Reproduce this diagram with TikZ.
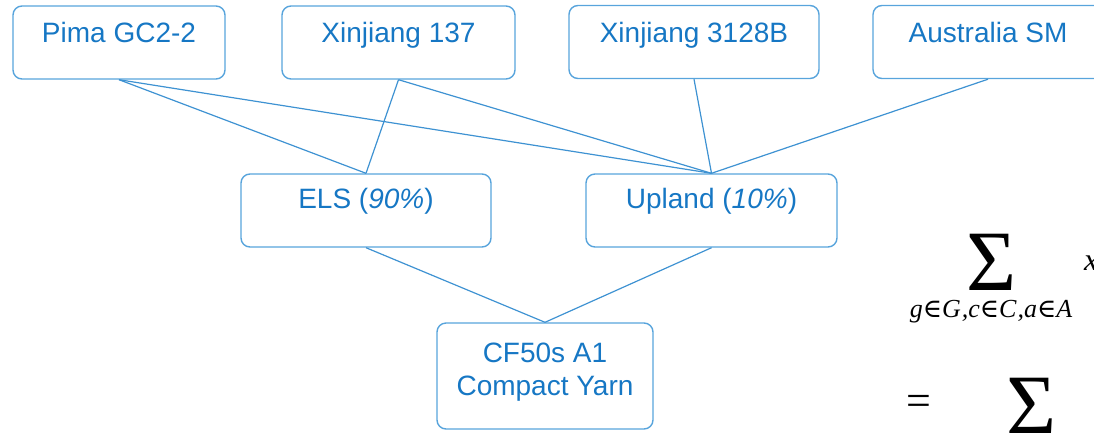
\documentclass[tikz,border=0pt]{standalone}
\usepackage{fontspec}
\setmainfont{Liberation Sans}
\newfontfamily\serifmath{Liberation Serif}
\newfontfamily\relsym{DejaVu Serif}
\newcommand\elemof{{\relsym\upshape ∈}}
\definecolor{ink}{RGB}{22,119,196}
\definecolor{boxline}{RGB}{88,164,220}
\definecolor{linkc}{RGB}{62,146,210}
\begin{document}
\begin{tikzpicture}[x=1pt,y=-1pt,
  box/.style={draw=boxline, line width=1.4pt, rounded corners=9pt,
    inner sep=0pt, minimum height=73pt},
  lbl/.style={text=ink, font=\fontsize{28}{33}\selectfont, inner sep=0pt, anchor=base},
  link/.style={draw=linkc, line width=1.2pt},
  bigsum/.style={inner sep=0pt, anchor=base, font=\fontsize{86}{86}\selectfont\serifmath}]
\useasboundingbox (0,0) rectangle (1094,432);
\clip (0,0) rectangle (1094,432);

% cotton varieties
\node[box, minimum width=212pt] (pima)  at (119,42.5)   {};
\node[box, minimum width=233pt] (x137)  at (398.5,42.5) {};
\node[box, minimum width=250pt] (x3128) at (694,42)     {};
\node[box, minimum width=230pt] (aus)   at (988,42)     {};
\node[lbl] (pimaT)  at (119,42)   {Pima GC2-2};
\node[lbl] (x137T)  at (398.5,42) {Xinjiang 137};
\node[lbl] (x3128T) at (694,42)   {Xinjiang 3128B};
\node[lbl] (ausT)   at (988,42)   {Australia SM};

% fibre classes
\node[box, minimum width=250pt] (els) at (366,210.5)   {};
\node[box, minimum width=251pt] (upl) at (711.5,210.5) {};
\node[lbl] (elsT) at (366,208)   {ELS (\textit{90\%})};
\node[lbl] (uplT) at (711.5,208) {Upland (\textit{10\%})};

% yarn
\node[box, minimum width=216pt, minimum height=106pt] (yarn) at (545,376) {};
\node[lbl, align=center] (yarnT) at (545,395) {CF50s A1\\Compact Yarn};

% blending links
\draw[link] (pima.south)  -- (els.north);
\draw[link] (pima.south)  -- (upl.north);
\draw[link] (x137.south)  -- (els.north);
\draw[link] (x137.south)  -- (upl.north);
\draw[link] (x3128.south) -- (upl.north);
\draw[link] (aus.south)   -- (upl.north);
\draw[link] (els.south)   -- (yarn.north);
\draw[link] (upl.south)   -- (yarn.north);

% constraint sums
\node[bigsum] (sumA) at (992,290) {Σ};
\node[inner sep=0pt, anchor=base] (subA) at (991,317)
  {\fontsize{26}{26}\selectfont\serifmath\itshape g\elemof G\kern1pt,c\elemof C\kern1pt,a\elemof A};
\node[inner sep=0pt, anchor=base west] (xvar) at (1084,270)
  {\fontsize{32}{32}\selectfont\serifmath\itshape x};
\node[inner sep=0pt, anchor=base west] (eq) at (906,415)
  {\fontsize{44}{44}\selectfont\serifmath =};
\node[bigsum] (sumB) at (1031.5,434) {Σ};
\end{tikzpicture}
\end{document}
